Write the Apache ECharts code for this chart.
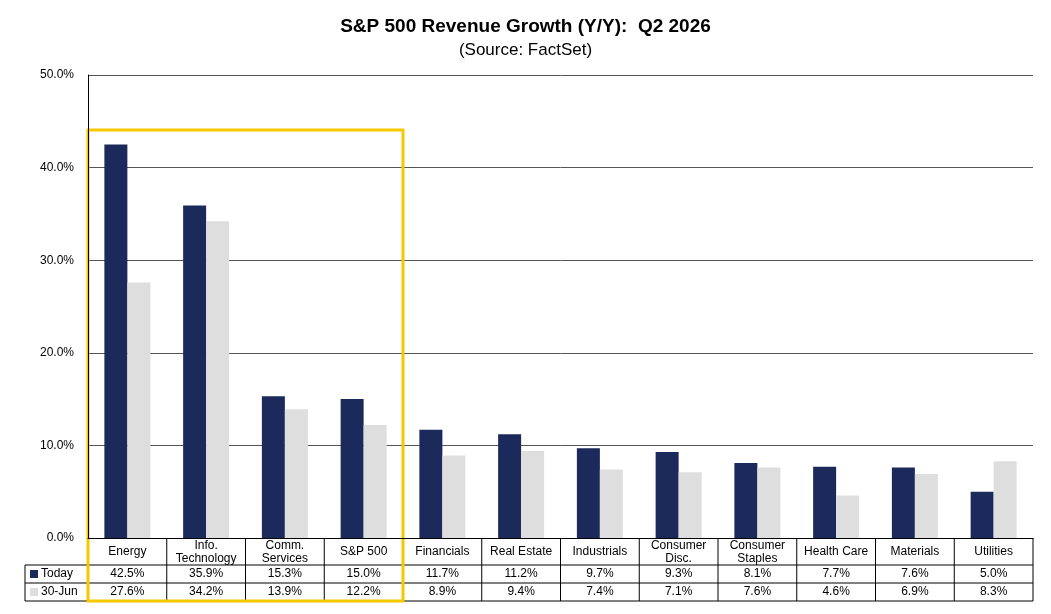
<!DOCTYPE html>
<html><head><meta charset="utf-8">
<script src="https://cdn.jsdelivr.net/npm/echarts@6/dist/echarts.min.js"></script>
<style>html,body{margin:0;padding:0;background:#fff}#c{width:1051px;height:614px}</style>
</head><body><div id="c"></div>
<script>
const categories = ['Energy','Info.\nTechnology','Comm.\nServices','S&P 500','Financials','Real Estate','Industrials','Consumer\nDisc.','Consumer\nStaples','Health Care','Materials','Utilities'];
const today = [42.5,35.9,15.3,15.0,11.7,11.2,9.7,9.3,8.1,7.7,7.6,5.0];
const june30 = [27.6,34.2,13.9,12.2,8.9,9.4,7.4,7.1,7.6,4.6,6.9,8.3];
const yTicks = {min:0,max:50,interval:10};
const F = 'Liberation Sans, Arial, sans-serif';
const chart = echarts.init(document.getElementById('c'));
const L=88,R=1033,T=75,B=538;
const mkX = (data, offset, margin, show) => ({type:'category',data:data,position:'bottom',offset:offset,
  axisLine:{show:show,lineStyle:{color:'#000'}},axisTick:{show:false},
  axisLabel:{interval:0,color:'#000',fontSize:12,fontFamily:F,lineHeight:13,margin:margin,verticalAlign:'middle'}});
chart.setOption({
  animation:false,
  title:{text:'S&P 500 Revenue Growth (Y/Y):  Q2 2026',subtext:'(Source: FactSet)',left:'center',top:12,itemGap:6,
    textStyle:{fontSize:19,fontWeight:'bold',fontFamily:F,color:'#000'},
    subtextStyle:{fontSize:17,fontFamily:F,color:'#000'}},
  grid:{left:L,right:1051-R,top:T,bottom:614-B},
  xAxis:[mkX(categories,0,14,true),
    mkX(today.map(v=>v.toFixed(1)+'%'),36,0,false),
    mkX(june30.map(v=>v.toFixed(1)+'%'),54,0,false)],
  yAxis:{type:'value',min:yTicks.min,max:yTicks.max,interval:yTicks.interval,
    axisLine:{show:true,lineStyle:{color:'#000'}},axisTick:{show:false},
    axisLabel:{formatter:v=>v.toFixed(1)+'%',color:'#000',fontSize:12,fontFamily:F,margin:14},
    splitLine:{lineStyle:{color:'#555',width:1}}},
  series:[
    {type:'bar',name:'Today',data:today,barWidth:23,barGap:'0%',itemStyle:{color:'#1b2a5a'}},
    {type:'bar',name:'30-Jun',data:june30,barWidth:23,itemStyle:{color:'#dedede'}}]
});
const cw=(R-L)/categories.length;
const g=[];
const ln=(x1,y1,x2,y2,c)=>({type:'line',shape:{x1,y1,x2,y2},style:{stroke:c||'#000',lineWidth:1}});
const rows=[565,583,601];
rows.forEach(y=>g.push(ln(25,y,R,y)));
g.push(ln(25,565,25,601));
for(let i=0;i<=categories.length;i++){const x=L+cw*i;g.push(ln(x,538,x,601));}
g.push({type:'rect',shape:{x:30,y:570,width:8,height:8},style:{fill:'#1b2a5a'}});
g.push({type:'text',style:{text:'Today',x:41,y:574,verticalAlign:'middle',font:'12px '+F,fill:'#000'}});
g.push({type:'rect',shape:{x:30,y:588,width:8,height:8},style:{fill:'#dedede'}});
g.push({type:'text',style:{text:'30-Jun',x:41,y:592,verticalAlign:'middle',font:'12px '+F,fill:'#000'}});
const x0=chart.convertToPixel({xAxisIndex:0},categories[0])-cw/2;
const x3=chart.convertToPixel({xAxisIndex:0},categories[3])+cw/2;
g.push({type:'rect',shape:{x:x0,y:130,width:x3-x0,height:471},style:{fill:'none',stroke:'#f5c800',lineWidth:3}});
chart.setOption({graphic:g});
</script></body></html>
